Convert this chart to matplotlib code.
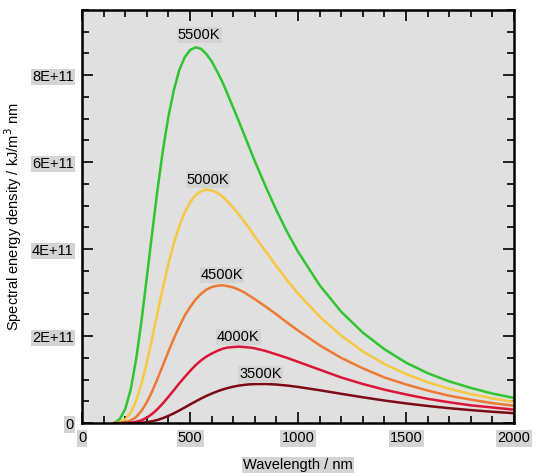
import matplotlib
matplotlib.use('Agg')
import matplotlib.pyplot as plt
from matplotlib.ticker import MultipleLocator, FuncFormatter

# wavelength grid (nm) and values (units of 1E+11)
wl = [150, 175, 200, 225, 250, 275, 300, 325, 350, 375, 400, 425, 450, 475, 500, 525,
      550, 575, 600, 625, 650, 675, 700, 725, 750, 775, 800, 850, 900, 950,
      1000, 1100, 1200, 1300, 1400, 1500, 1600, 1700, 1800, 1900, 2000]

t5500 = [0.002, 0.098, 0.33, 0.773, 1.46, 2.35, 3.36, 4.40, 5.40, 6.30, 7.06, 7.66, 8.12, 8.41, 8.58, 8.64,
         8.61, 8.49, 8.32, 8.09, 7.84, 7.55, 7.25, 6.95, 6.64, 6.33, 6.02, 5.44, 4.89, 4.39,
         3.94, 3.17, 2.56, 2.08, 1.70, 1.39, 1.15, 0.96, 0.81, 0.68, 0.58]
t5000 = [0.003, 0.022, 0.088, 0.242, 0.513, 0.907, 1.40, 1.97, 2.56, 3.13, 3.67, 4.14, 4.53, 4.84, 5.08, 5.24,
         5.33, 5.37, 5.35, 5.30, 5.21, 5.09, 4.95, 4.80, 4.64, 4.47, 4.29, 3.95, 3.61, 3.28,
         2.98, 2.45, 2.01, 1.65, 1.36, 1.13, 0.94, 0.79, 0.67, 0.57, 0.49]
t4500 = [0.0, 0.004, 0.018, 0.058, 0.143, 0.283, 0.483, 0.736, 1.03, 1.34, 1.65, 1.95, 2.22, 2.47, 2.67, 2.84,
         2.97, 3.07, 3.13, 3.16, 3.17, 3.15, 3.12, 3.07, 3.01, 2.93, 2.85, 2.68, 2.50, 2.31,
         2.13, 1.79, 1.50, 1.26, 1.05, 0.89, 0.75, 0.63, 0.54, 0.46, 0.40]
t4000 = [0.0, 0.0, 0.002, 0.010, 0.029, 0.066, 0.128, 0.215, 0.327, 0.460, 0.607, 0.760, 0.915, 1.06, 1.20, 1.33,
         1.44, 1.53, 1.60, 1.66, 1.71, 1.74, 1.75, 1.76, 1.75, 1.74, 1.72, 1.66, 1.58, 1.50,
         1.41, 1.23, 1.05, 0.90, 0.77, 0.66, 0.56, 0.48, 0.41, 0.36, 0.31]
t3500 = [0.0, 0.0, 0.0, 0.001, 0.004, 0.010, 0.023, 0.044, 0.075, 0.117, 0.168, 0.227, 0.292, 0.360, 0.430, 0.498,
         0.564, 0.625, 0.680, 0.730, 0.773, 0.809, 0.839, 0.863, 0.880, 0.892, 0.899, 0.901, 0.888, 0.864,
         0.833, 0.757, 0.675, 0.595, 0.520, 0.454, 0.395, 0.344, 0.300, 0.262, 0.229]

labels = ['5500K', '5000K', '4500K', '4000K', '3500K']
series = [t5500, t5000, t4500, t4000, t3500]
colors = ['#30c530', '#f7c840', '#ee7a32', '#dc1438', '#7e0a14']
label_xy = [(542, 8.92), (583, 5.6), (648, 3.4), (722, 1.98), (826, 1.12)]

plt.rcParams['font.family'] = ['Liberation Sans', 'DejaVu Sans']

fig = plt.figure(figsize=(5.4, 4.76), dpi=100)
ax = fig.add_axes([0.152, 0.111, 0.8, 0.868])
ax.set_facecolor('#e0e0e0')

box = dict(boxstyle='square,pad=0.08', fc='#d4d4d4', ec='none')

for name, vals, col, (lx, ly) in zip(labels, series, colors, label_xy):
    ax.plot(wl, [v * 1e11 for v in vals], color=col, lw=1.8, zorder=2)
    ax.text(lx, ly * 1e11, name, ha='center', va='center', fontsize=10.5, bbox=box)

ax.set_xlim(0, 2000)
ax.set_ylim(0, 9.5e11)
ax.xaxis.set_major_locator(MultipleLocator(500))
ax.xaxis.set_minor_locator(MultipleLocator(100))
ax.yaxis.set_major_locator(MultipleLocator(2e11))
ax.yaxis.set_minor_locator(MultipleLocator(0.5e11))


def yfmt(v, pos):
    if v == 0:
        return '0'
    return '%dE+11' % round(v / 1e11)


ax.yaxis.set_major_formatter(FuncFormatter(yfmt))
ax.tick_params(which='both', direction='in', top=True, right=True, width=1.2, labelsize=10.5, pad=6)
ax.tick_params(which='major', length=8)
ax.tick_params(which='minor', length=5)
for lab in ax.get_xticklabels() + ax.get_yticklabels():
    lab.set_bbox(box)
for sp in ax.spines.values():
    sp.set_linewidth(1.8)

ax.set_xlabel('Wavelength / nm', fontsize=10.5, labelpad=9, bbox=box)
ax.set_ylabel('Spectral energy density / kJ/m$^3$ nm', fontsize=10.5, labelpad=6)

fig.savefig('out.png', dpi=100)
